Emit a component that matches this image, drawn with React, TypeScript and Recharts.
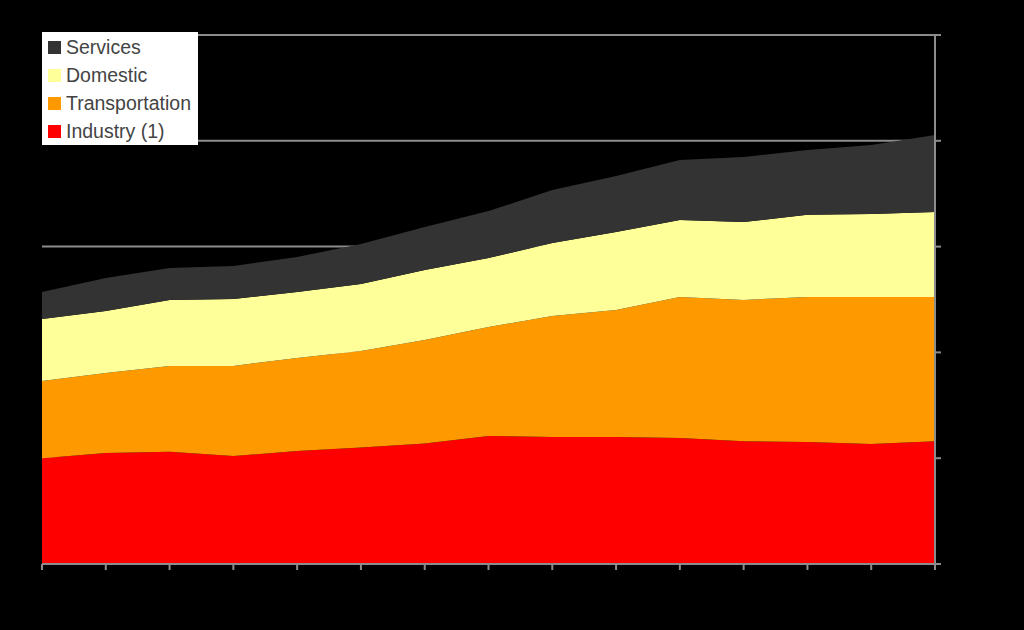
import React from 'react';
import { AreaChart, Area, XAxis, YAxis, CartesianGrid } from 'recharts';

const years = ['1990', '1991', '1992', '1993', '1994', '1995', '1996', '1997', '1998', '1999', '2000', '2001', '2002', '2003', '2004'];
const industry = [50000, 52500, 53000, 51000, 53400, 55000, 57000, 60500, 60000, 60000, 59500, 58000, 57700, 56700, 58000];
const transportation = [36500, 37800, 40600, 42600, 44000, 45700, 48900, 51500, 57200, 60000, 66700, 66800, 68500, 69500, 68200];
const domestic = [29300, 29300, 31200, 31600, 31100, 31600, 33000, 32600, 34500, 36900, 36400, 36800, 38800, 39200, 40200];
const services = [12700, 15600, 15100, 15600, 16600, 18900, 20400, 22200, 25000, 26500, 28300, 30700, 30700, 32600, 36300];
const yTicks = [0, 50000, 100000, 150000, 200000, 250000];

const series = [
  { key: 'industry', name: 'Industry (1)', color: '#FF0000' },
  { key: 'transportation', name: 'Transportation', color: '#FF9900' },
  { key: 'domestic', name: 'Domestic', color: '#FFFF99' },
  { key: 'services', name: 'Services', color: '#333333' },
];

const data = years.map((year, i) => ({
  year,
  industry: industry[i],
  transportation: transportation[i],
  domestic: domestic[i],
  services: services[i],
}));

const fmt = (v: number) => v.toLocaleString('en-US');
const font = 'Liberation Sans, Arial, sans-serif';

const LegendBox = () => (
  <div
    style={{
      position: 'absolute',
      left: 42,
      top: 32,
      background: '#fff',
      width: 156,
      height: 113,
      boxSizing: 'border-box',
      padding: '1px 0 0 6px',
      fontFamily: font,
      fontSize: 19.5,
      color: '#444',
      whiteSpace: 'nowrap',
    }}
  >
    {[...series].reverse().map((s) => (
      <div key={s.key} style={{ display: 'flex', alignItems: 'center', height: 28 }}>
        <span style={{ width: 13, height: 13, background: s.color, marginRight: 5, display: 'inline-block' }} />
        <span>{s.name}</span>
      </div>
    ))}
  </div>
);

export default function App() {
  return (
    <div style={{ position: 'absolute', left: 0, top: 0, width: 1024, height: 630, background: '#000' }}>
      <AreaChart width={1024} height={630} data={data} margin={{ top: 35, right: 0, bottom: 16, left: 42 }}>
        <CartesianGrid horizontal vertical={false} stroke="#8c8c8c" strokeWidth={2} />
        <XAxis
          dataKey="year"
          interval={0}
          height={50}
          tickSize={6}
          tickMargin={18}
          stroke="#8c8c8c"
          strokeWidth={2}
          tick={{ fill: '#000', fontSize: 14, fontFamily: font }}
        />
        <YAxis
          orientation="right"
          width={89}
          domain={[0, 250000]}
          ticks={yTicks}
          tickFormatter={fmt}
          tickSize={6}
          stroke="#8c8c8c"
          strokeWidth={2}
          tick={{ fill: '#000', fontSize: 14, fontFamily: font }}
        />
        {series.map((s) => (
          <Area
            key={s.key}
            type="linear"
            dataKey={s.key}
            name={s.name}
            stackId="1"
            stroke="none"
            fill={s.color}
            fillOpacity={1}
            isAnimationActive={false}
          />
        ))}
      </AreaChart>
      <LegendBox />
    </div>
  );
}
